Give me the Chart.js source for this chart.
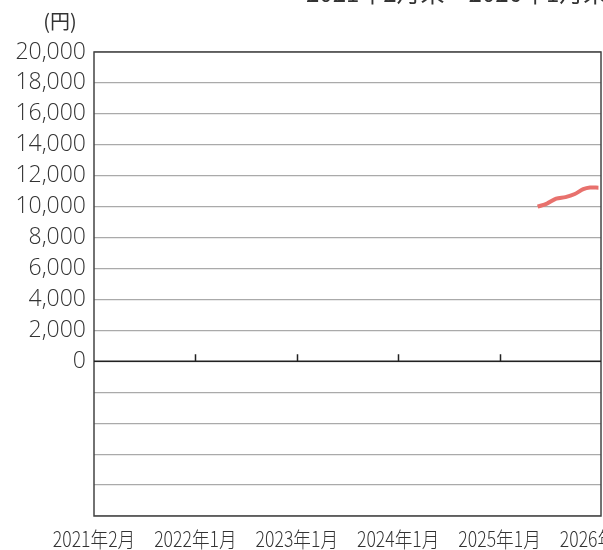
<!DOCTYPE html>
<html>
<head>
<meta charset="utf-8">
<script src="https://cdn.jsdelivr.net/npm/chart.js@4"></script>
<style>
  html, body { margin: 0; padding: 0; background: #fff; }
  #wrap { width: 603px; height: 550px; position: relative; }
</style>
</head>
<body>
<div id="wrap"><canvas id="navChart"></canvas></div>
<script>
// x positions are months counted from 2021年2月 (tick labels every 12)
const tickLabels = ["2021年2月", "2022年1月", "2023年1月", "2024年1月", "2025年1月", "2026年1月"];
const monthPos = [52.5, 53.6, 54.7, 55.8, 56.9, 57.9, 58.7, 59.7];
const navValues = [10000, 10200, 10520, 10620, 10820, 11130, 11240, 11230];
const periodText = "2021年2月末～2026年1月末";
const unitText = "(円)";

const FONT = "'Noto Sans CJK JP', 'Noto Sans', sans-serif";
const NUM_FONT = "'Open Sans', 'Noto Sans CJK JP', sans-serif";

const framePlugin = {
    id: 'frame',
    afterDraw(chart){
        const ctx = chart.ctx;
        const a = chart.chartArea;
        const x = chart.scales.x;
        const y = chart.scales.y;
        ctx.save();
        // box
        ctx.strokeStyle = '#444';
        ctx.lineWidth = 1.5;
        ctx.strokeRect(a.left, a.top, a.right - a.left, a.bottom - a.top);
        // zero line + small ticks
        const y0 = y.getPixelForValue(0);
        ctx.strokeStyle = '#222';
        ctx.beginPath();
        ctx.moveTo(a.left, y0);
        ctx.lineTo(a.right, y0);
        for(let i = 1; i < tickLabels.length - 1; i++){
            const px = Math.round(x.getPixelForValue(i * 12)) + 0.5;
            ctx.moveTo(px, y0);
            ctx.lineTo(px, y0 - 7);
        }
        ctx.stroke();
        // x labels, slightly condensed like the original
        ctx.fillStyle = '#333';
        ctx.font = "300 21px " + FONT;
        ctx.textAlign = 'center';
        ctx.textBaseline = 'alphabetic';
        tickLabels.forEach((t, i) => {
            const px = x.getPixelForValue(i * 12);
            ctx.save();
            ctx.translate(px, 547);
            ctx.scale(0.84, 1);
            ctx.fillText(t, 0, 0);
            ctx.restore();
        });
        // texts
        ctx.font = "20px " + FONT;
        ctx.textAlign = 'center';
        ctx.textBaseline = 'middle';
        ctx.fillText(unitText, 60, 21);
        ctx.font = "24px " + FONT;
        ctx.textAlign = 'left';
        ctx.textBaseline = 'alphabetic';
        ctx.fillText(periodText, 306, 2);
        ctx.restore();
    }
};

const ctx = document.getElementById('navChart').getContext('2d');
const chart = new Chart(ctx, {
    type: 'line',
    data: {
        datasets: [{
            data: monthPos.map((m, i) => ({x: m, y: navValues[i]})),
            borderColor: '#E8716D',
            borderWidth: 4,
            pointRadius: 0,
            tension: 0.3,
            fill: false
        }]
    },
    options: {
        responsive: true,
        maintainAspectRatio: false,
        animation: false,
        layout: { padding: { top: 52, right: 2, left: 0, bottom: 0 } },
        plugins: {
            legend: { display: false },
            tooltip: { enabled: false }
        },
        scales: {
            x: {
                type: 'linear',
                min: 0,
                max: 60,
                grid: { display: false, drawTicks: false },
                border: { display: false },
                ticks: {
                    stepSize: 12,
                    display: false,
                    callback: v => tickLabels[v / 12]
                },
                afterFit(scale){
                    scale.height = 34;
                    scale.paddingLeft = 0;
                    scale.paddingRight = 0;
                }
            },
            y: {
                min: -10000,
                max: 20000,
                grid: {
                    drawTicks: false,
                    color: '#aaa',
                    lineWidth: 1.2
                },
                border: { display: false },
                ticks: {
                    stepSize: 2000,
                    padding: 8,
                    color: '#333',
                    font: { family: NUM_FONT, size: 23, weight: 300 },
                    callback: v => v >= 0 ? v.toLocaleString('en-US') : ''
                },
                afterFit(scale){
                    scale.width = 94;
                }
            }
        }
    },
    plugins: [framePlugin]
});
</script>
</body>
</html>
